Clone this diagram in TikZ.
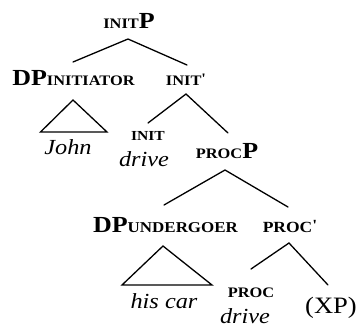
\documentclass[tikz,border=0pt]{standalone}
\usepackage{fontspec}
\setmainfont{Liberation Serif}[ItalicFont={Liberation Serif Italic},BoldFont={Liberation Serif Bold}]
\newcommand{\hs}[1]{\scalebox{1.13}[1]{#1}}
\newcommand{\smc}[2][14.5]{{\fontsize{#1}{#1}\selectfont\bfseries #2}}
\newcommand{\bigb}[1]{{\fontsize{23}{24}\selectfont\bfseries #1}}
\newcommand{\itx}[1]{{\fontsize{21.5}{22}\selectfont\itshape #1}}
\newcommand{\rmx}[1]{{\fontsize{23.5}{24}\selectfont #1}}
\newcommand{\prm}{\raisebox{1.5pt}{\textquotesingle}}
\begin{document}
\begin{tikzpicture}[x=1pt,y=1pt,
  lbl/.style={inner sep=0pt,outer sep=0pt,anchor=base},
  edge/.style={line width=1.3pt,line cap=round,line join=miter}]
\useasboundingbox (0,0) rectangle (358,-327);
% labels
\node[lbl] (initp) at (129,-28) {\hs{\smc{INIT}\bigb{P}}};
\node[lbl] (dpi) at (73.5,-85) {\hs{\bigb{DP}\raisebox{-0.5pt}{\smc{INITIATOR}}}};
\node[lbl] (initbar) at (186,-85) {\hs{\smc{INIT\prm}}};
\node[lbl] (john) at (68,-154) {\hs{\itx{John}}};
\node[lbl] (init) at (148,-140) {\hs{\smc[13.8]{INIT}}};
\node[lbl] (drivea) at (144,-166) {\hs{\itx{drive}}};
\node[lbl] (procp) at (227,-158) {\hs{\smc{PROC}\bigb{P}}};
\node[lbl] (dpu) at (165.5,-232) {\hs{\bigb{DP}\raisebox{-0.5pt}{\smc[15]{UNDERGOER}}}};
\node[lbl] (hiscar) at (164,-308) {\hs{\itx{his car}}};
\node[lbl] (procbar) at (290,-232) {\hs{\smc[15.5]{PROC\prm}}};
\node[lbl] (proc) at (251,-297) {\hs{\smc{PROC}}};
\node[lbl] (driveb) at (245,-323) {\hs{\itx{drive}}};
\node[lbl] (xp) at (331,-313) {\hs{\rmx{(XP)}}};
% branches
\draw[edge] ([shift={(1,20)}]initbar.base) -- ([shift={(-1,-11)}]initp.base) -- ([shift={(-0.5,23)}]dpi.base);
\draw[edge] ([shift={(-0.5,-15)}]dpi.base) -- ([shift={(-33,-47)}]dpi.base) -- ([shift={(33.5,-47)}]dpi.base) -- cycle;
\draw[edge] ([shift={(0,17)}]init.base) -- ([shift={(0,-9)}]initbar.base) -- ([shift={(1,25)}]procp.base);
\draw[edge] ([shift={(-1.5,27)}]dpu.base) -- ([shift={(-2,-12)}]procp.base) -- ([shift={(-2,25)}]procbar.base);
\draw[edge] ([shift={(-2.5,-14)}]dpu.base) -- ([shift={(-43.5,-53)}]dpu.base) -- ([shift={(46.5,-53)}]dpu.base) -- cycle;
\draw[edge] ([shift={(0,28)}]proc.base) -- ([shift={(-1,-11)}]procbar.base) -- ([shift={(-3,28)}]xp.base);
\end{tikzpicture}
\end{document}
